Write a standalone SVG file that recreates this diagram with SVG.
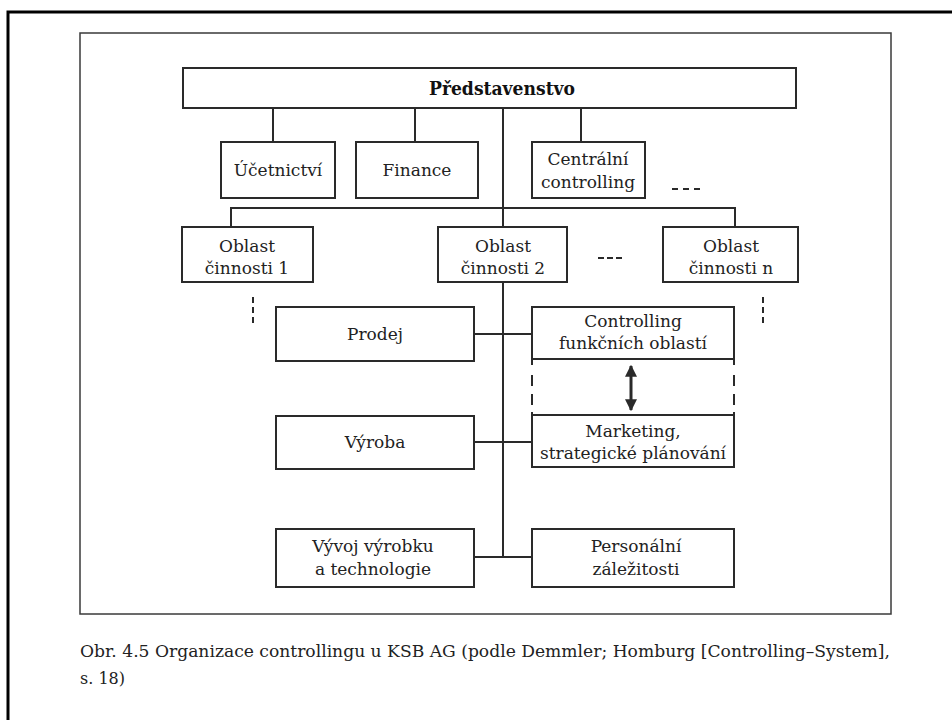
<svg xmlns="http://www.w3.org/2000/svg" width="952" height="720" viewBox="0 0 952 720">
  <style>
    .box { fill: #ffffff; stroke: #2a2a2a; stroke-width: 2; }
    .line { fill: none; stroke: #2a2a2a; stroke-width: 2; }
    .dash { fill: none; stroke: #2a2a2a; stroke-width: 2; }
    .lbl { font-family: "DejaVu Serif", "Liberation Serif", serif; font-size: 17px; fill: #222; text-anchor: middle; }
    .title { font-family: "DejaVu Serif", "Liberation Serif", serif; font-size: 18px; font-weight: bold; fill: #111; text-anchor: middle; }
    .cap { font-family: "DejaVu Serif", "Liberation Serif", serif; font-size: 16px; fill: #222; }
  </style>
  <defs>
    <marker id="head" viewBox="0 0 10 10" refX="9" refY="5" markerWidth="4" markerHeight="4" orient="auto-start-reverse">
      <path d="M0,0 L10,5 L0,10 z" fill="#2a2a2a"/>
    </marker>
  </defs>

  <rect width="952" height="720" fill="#ffffff"/>

  <!-- page border and figure frame -->
  <path d="M8,720 V12 H952" fill="none" stroke="#000" stroke-width="3"/>
  <rect x="80" y="33" width="811" height="581" fill="none" stroke="#3a3a3a" stroke-width="1.5"/>

  <!-- connectors -->
  <g id="connectors">
    <line class="line" x1="273" y1="108" x2="273" y2="142"/>
    <line class="line" x1="415" y1="108" x2="415" y2="142"/>
    <line class="line" x1="581" y1="108" x2="581" y2="142"/>
    <line class="line" x1="503" y1="108" x2="503" y2="557"/>
    <path class="line" d="M231,227 V208 H735 V227"/>
    <line class="line" x1="474" y1="334" x2="532" y2="334"/>
    <line class="line" x1="474" y1="442" x2="532" y2="442"/>
    <line class="line" x1="474" y1="557" x2="532" y2="557"/>
    <!-- dashed sides joining the two staff boxes -->
    <path class="dash" d="M532,359 V365 M532,375 V386 M532,394 V405 M532,412 V415"/>
    <path class="dash" d="M734,359 V365 M734,375 V386 M734,394 V405 M734,412 V415"/>
    <line x1="631" y1="366" x2="631" y2="410" stroke="#2a2a2a" stroke-width="3" marker-start="url(#head)" marker-end="url(#head)"/>
    <!-- continuation marks -->
    <path class="dash" d="M253,297 V303 M253,307 V313 M253,317 V323"/>
    <path class="dash" d="M763,297 V303 M763,307 V313 M763,317 V323"/>
    <path class="dash" d="M672,189 H678 M683,189 H689 M694,189 H700"/>
    <path class="dash" d="M598,258 H604 M607,258 H613 M616,258 H622"/>
  </g>

  <g id="board">
    <rect class="box" x="183" y="68" width="613" height="40"/>
    <text class="title" x="502" y="95" textLength="146" lengthAdjust="spacingAndGlyphs">Představenstvo</text>
  </g>

  <g id="ucetnictvi">
    <rect class="box" x="221" y="142" width="114" height="56"/>
    <text class="lbl" x="278" y="176">Účetnictví</text>
  </g>
  <g id="finance">
    <rect class="box" x="356" y="142" width="122" height="56"/>
    <text class="lbl" x="417" y="176">Finance</text>
  </g>
  <g id="centralni-controlling">
    <rect class="box" x="532" y="142" width="113" height="56"/>
    <text class="lbl" x="588" y="165">Centrální</text>
    <text class="lbl" x="588" y="188">controlling</text>
  </g>

  <g id="oblast-1">
    <rect class="box" x="182" y="227" width="131" height="55"/>
    <text class="lbl" x="247" y="252">Oblast</text>
    <text class="lbl" x="247" y="274">činnosti 1</text>
  </g>
  <g id="oblast-2">
    <rect class="box" x="438" y="227" width="129" height="55"/>
    <text class="lbl" x="503" y="252">Oblast</text>
    <text class="lbl" x="503" y="274">činnosti 2</text>
  </g>
  <g id="oblast-n">
    <rect class="box" x="663" y="227" width="135" height="55"/>
    <text class="lbl" x="731" y="252">Oblast</text>
    <text class="lbl" x="731" y="274">činnosti n</text>
  </g>

  <g id="prodej">
    <rect class="box" x="276" y="307" width="198" height="54"/>
    <text class="lbl" x="375" y="340">Prodej</text>
  </g>
  <g id="controlling-funkcnich-oblasti">
    <rect class="box" x="532" y="307" width="202" height="52"/>
    <text class="lbl" x="633" y="327">Controlling</text>
    <text class="lbl" x="633" y="349">funkčních oblastí</text>
  </g>

  <g id="vyroba">
    <rect class="box" x="276" y="416" width="198" height="53"/>
    <text class="lbl" x="375" y="448">Výroba</text>
  </g>
  <g id="marketing">
    <rect class="box" x="532" y="415" width="202" height="52"/>
    <text class="lbl" x="633" y="437">Marketing,</text>
    <text class="lbl" x="633" y="459">strategické plánování</text>
  </g>

  <g id="vyvoj">
    <rect class="box" x="276" y="529" width="198" height="58"/>
    <text class="lbl" x="373" y="552">Vývoj výrobku</text>
    <text class="lbl" x="373" y="575">a technologie</text>
  </g>
  <g id="personalni">
    <rect class="box" x="532" y="529" width="202" height="58"/>
    <text class="lbl" x="636" y="552">Personální</text>
    <text class="lbl" x="636" y="575">záležitosti</text>
  </g>

  <!-- caption -->
  <text class="cap" x="80" y="657" textLength="810" lengthAdjust="spacingAndGlyphs">Obr. 4.5 Organizace controllingu u KSB AG (podle Demmler; Homburg [Controlling–System],</text>
  <text class="cap" x="80" y="684">s. 18)</text>
</svg>
